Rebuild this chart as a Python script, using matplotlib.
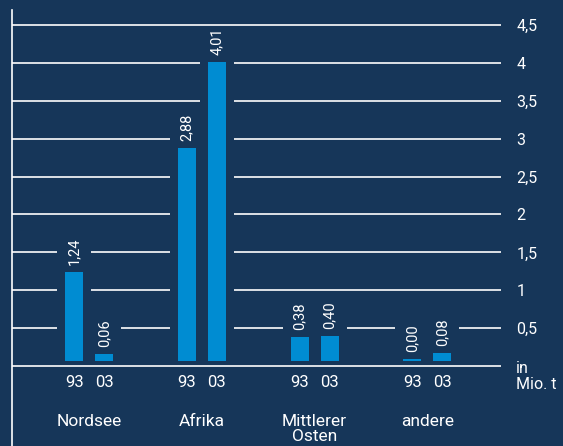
import matplotlib
matplotlib.use("Agg")
import matplotlib.pyplot as plt
from matplotlib.lines import Line2D
import numpy as np

plt.rcParams['font.family'] = ['Roboto', 'DejaVu Sans']

regionen = ['Nordsee', 'Afrika', 'Mittlerer\nOsten', 'andere']
jahre = ['93', '03']
werte93 = [1.24, 2.88, 0.38, 0.00]
werte03 = [0.06, 4.01, 0.40, 0.08]
ticks = [0.5, 1, 1.5, 2, 2.5, 3, 3.5, 4, 4.5]

hintergrund = '#163659'
balken = '#008cd2'
linie = '#dde1e6'

fig = plt.figure(figsize=(5.63, 4.46), dpi=100)
fig.patch.set_facecolor(hintergrund)
ax = fig.add_axes([12/563, 80/446, 489/563, 355/446])
ax.set_facecolor(hintergrund)
for s in ax.spines.values():
    s.set_visible(False)

ax.set_xlim(-0.685, 3.654)
ax.set_ylim(0, 4.685)

# linke senkrechte linie
fig.add_artist(Line2D([12/563, 12/563], [0, 1 - 10/446], color='white', lw=1.2))

# gitterlinien
ax.hlines(ticks, -0.685, 3.654, color=linie, lw=1.4, zorder=1)
ax.hlines([0], -0.685, 3.654, color=linie, lw=1.4, zorder=5, clip_on=False)

off = 0.133
bw = 0.16
luecke = 0.066
x = np.arange(len(regionen))

for xs, vals in [(x - off, werte93), (x + off, werte03)]:
    vals = np.array(vals)
    top = np.where(vals > 0.2, vals, vals + luecke + 0.03)
    ax.bar(xs, top - luecke, bottom=luecke, width=bw, color=balken, zorder=4)
    # lücke in den gitterlinien
    ax.bar(xs, top + 0.47, width=bw + 0.142, color=hintergrund, zorder=2)
    for xi, t, v in zip(xs, top, vals):
        ax.annotate(f'{v:.2f}'.replace('.', ','), (xi, t), xytext=(0, 5),
                    textcoords='offset points', rotation=90, ha='center',
                    va='bottom', color='white', fontsize=10.5, zorder=6)

for i in range(len(regionen)):
    ax.text(x[i] - off, -0.224, jahre[0], ha='center', va='center',
            color='white', fontsize=12, clip_on=False)
    ax.text(x[i] + off, -0.224, jahre[1], ha='center', va='center',
            color='white', fontsize=12, clip_on=False)
    ax.text(x[i], -0.63, regionen[i], ha='center', va='top', color='white',
            fontsize=12.5, linespacing=1.0, clip_on=False)

ax.yaxis.tick_right()
ax.set_yticks(ticks)
ax.set_yticklabels([f'{t:g}'.replace('.', ',') for t in ticks])
ax.tick_params(axis='y', length=0, pad=11, labelcolor='white', labelsize=11.5)
ax.set_xticks([])
ax.text(1.0307, 0.07, 'in\nMio. t', transform=ax.get_yaxis_transform(),
        ha='left', va='top', color='white', fontsize=11.5, linespacing=1.15,
        clip_on=False)

fig.savefig('out.png', dpi=100, facecolor=hintergrund)
